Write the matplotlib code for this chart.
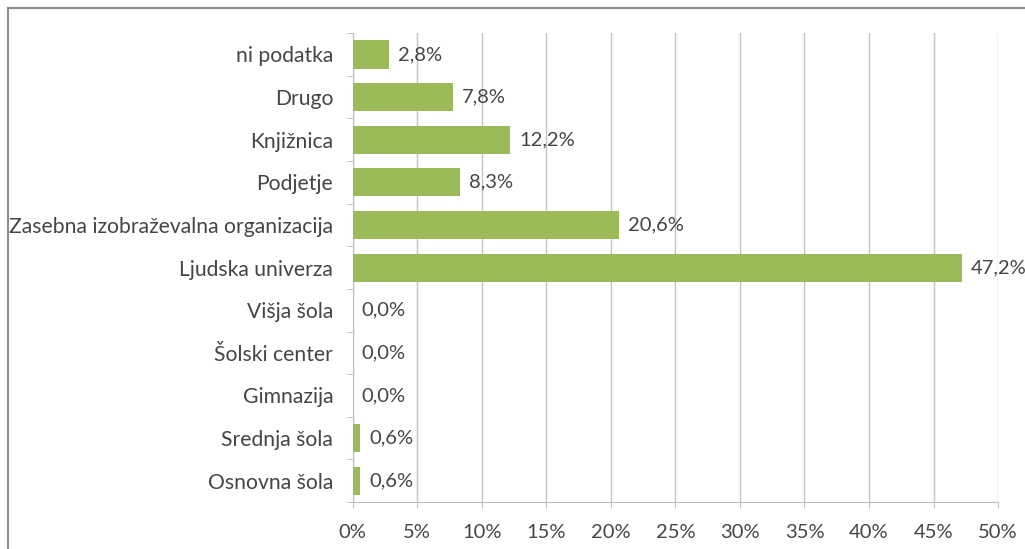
import matplotlib.pyplot as plt
import numpy as np
from matplotlib.lines import Line2D

plt.rcParams['font.family'] = ['Lato', 'DejaVu Sans']

categories = ['ni podatka', 'Drugo', 'Knjižnica', 'Podjetje',
              'Zasebna izobraževalna organizacija', 'Ljudska univerza',
              'Višja šola', 'Šolski center', 'Gimnazija', 'Srednja šola',
              'Osnovna šola']
values = [2.8, 7.8, 12.2, 8.3, 20.6, 47.2, 0.0, 0.0, 0.0, 0.6, 0.6]
xticks = [0, 5, 10, 15, 20, 25, 30, 35, 40, 45, 50]

bar_color = '#9BBB59'
text_color = '#454545'
grid_color = '#C4C4C4'
fs = 14.5

fig = plt.figure(figsize=(10.25, 5.49), dpi=100)
ax = fig.add_axes([0.344, 0.0856, 0.6298, 0.854])

y = np.arange(len(categories))[::-1]
ax.barh(y, values, height=0.66, color=bar_color, zorder=3)

for yi, v in zip(y, values):
    label = '{:.1f}%'.format(v).replace('.', ',')
    ax.annotate(label, (v, yi), xytext=(6.5, 0), textcoords='offset points',
                va='center', ha='left', fontsize=fs, color=text_color,
                annotation_clip=False, zorder=4)

ax.set_xlim(0, 50)
ax.set_ylim(-0.5, len(categories) - 0.5)
ax.set_xticks(xticks)
ax.set_xticklabels(['{}%'.format(t) for t in xticks], fontsize=fs, color=text_color)
ax.set_yticks(y)
ax.set_yticklabels(categories, fontsize=15.2, color=text_color)
ax.set_yticks(np.arange(len(categories) + 1) - 0.5, minor=True)

ax.xaxis.grid(True, color=grid_color, linewidth=1, zorder=0)
ax.tick_params(axis='x', length=4, color=grid_color, pad=12)
ax.tick_params(axis='y', which='major', length=0, pad=14)
ax.tick_params(axis='y', which='minor', length=4, color='#A9B8D0')

for side in ['top', 'right']:
    ax.spines[side].set_visible(False)
ax.spines['left'].set_color('#BFBFBF')
ax.spines['bottom'].set_color('#BFBFBF')

# outer chart frame (top and left edges)
fig.add_artist(Line2D([8 / 1025, 8 / 1025], [0, 1 - 8 / 549],
                      transform=fig.transFigure, color='#8C8C8C', linewidth=1.5))
fig.add_artist(Line2D([8 / 1025, 1], [1 - 8 / 549, 1 - 8 / 549],
                      transform=fig.transFigure, color='#8C8C8C', linewidth=1.5))

fig.savefig('out.png', dpi=100)
